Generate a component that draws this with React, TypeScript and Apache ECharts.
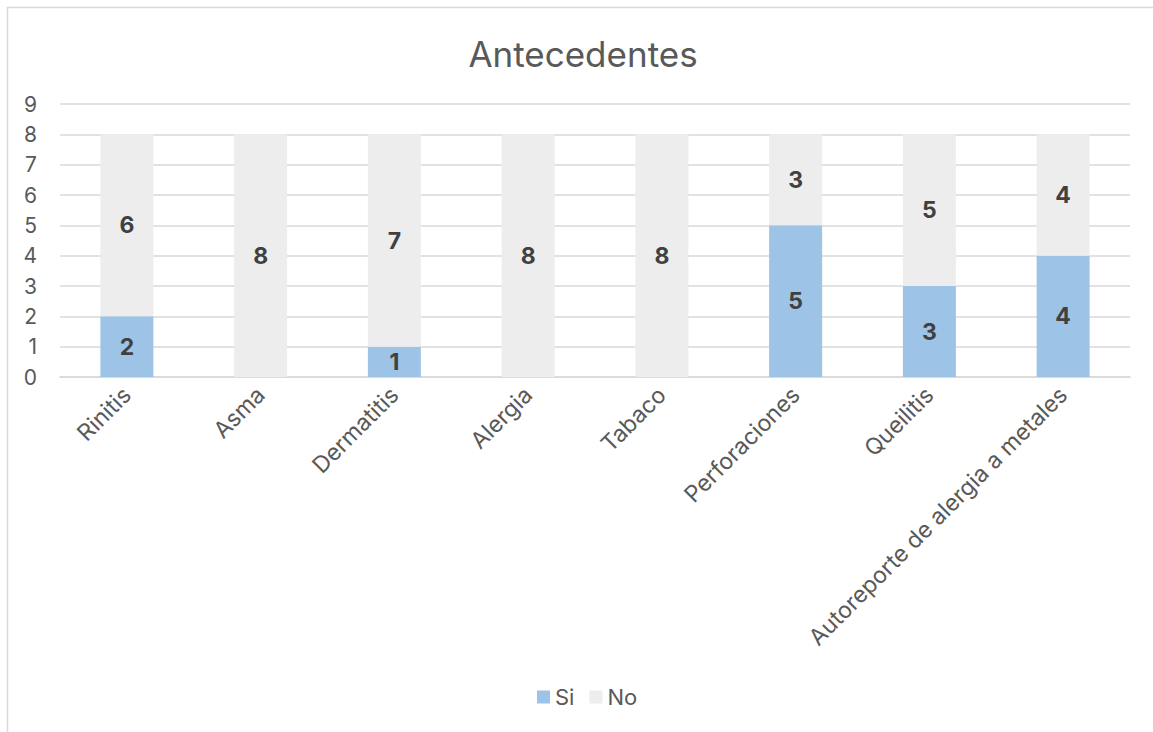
import React, { useEffect, useRef } from "react";
import * as echarts from "echarts";

const categories = ["Rinitis", "Asma", "Dermatitis", "Alergia", "Tabaco", "Perforaciones", "Queilitis", "Autoreporte de alergia a metales"];
const siValues = [2, 0, 1, 0, 0, 5, 3, 4];
const noValues = [6, 8, 7, 8, 8, 3, 5, 4];
const yTicks = [0, 1, 2, 3, 4, 5, 6, 7, 8, 9];

const FONT = "Inter, 'Liberation Sans', Arial, sans-serif";

export default function App() {
  const ref = useRef<HTMLDivElement>(null);
  useEffect(() => {
    if (!ref.current) return;
    const chart = echarts.init(ref.current, undefined, { renderer: "svg" });
    const labelStyle = {
      show: true,
      position: "inside" as const,
      fontFamily: FONT,
      fontSize: 23,
      fontWeight: "bold" as const,
      color: "#404040",
      formatter: (p: any) => (p.value ? String(p.value) : ""),
    };
    chart.setOption({
      animation: false,
      backgroundColor: "#ffffff",
      title: {
        text: "Antecedentes",
        left: 578,
        textAlign: "center",
        top: 31,
        textStyle: { fontFamily: FONT, fontSize: 35, fontWeight: "normal", color: "#595959" },
      },
      legend: {
        bottom: 19,
        left: 532,
        itemWidth: 13,
        itemHeight: 13,
        itemGap: 15,
        icon: "rect",
        textStyle: { fontFamily: FONT, fontSize: 22, color: "#595959", padding: [0, 0, 0, 0] },
        data: ["Si", "No"],
      },
      grid: { left: 60, right: 23, top: 104, bottom: 355, containLabel: false },
      xAxis: {
        type: "category",
        data: categories,
        axisLine: { show: true, lineStyle: { color: "#D9D9D9", width: 1.5 } },
        axisTick: { show: false },
        axisLabel: {
          rotate: 45,
          interval: 0,
          margin: 14,
          fontFamily: FONT,
          fontSize: 23,
          color: "#595959",
        },
      },
      yAxis: {
        type: "value",
        min: yTicks[0],
        max: yTicks[yTicks.length - 1],
        interval: 1,
        axisLine: { show: false },
        axisTick: { show: false },
        axisLabel: { fontFamily: FONT, fontSize: 21, color: "#595959", margin: 23 },
        splitLine: { lineStyle: { color: "#D9D9D9", width: 1.5 } },
      },
      series: [
        {
          name: "Si",
          type: "bar",
          stack: "total",
          data: siValues,
          barWidth: 53,
          itemStyle: { color: "#9DC3E6" },
          label: labelStyle,
        },
        {
          name: "No",
          type: "bar",
          stack: "total",
          data: noValues,
          barWidth: 53,
          itemStyle: { color: "#EDEDED" },
          label: labelStyle,
        },
      ],
      graphic: [
        { type: "line", shape: { x1: 7, y1: 7.5, x2: 1153, y2: 7.5 }, style: { stroke: "#D9D9D9", lineWidth: 1.5 } },
        { type: "line", shape: { x1: 7.5, y1: 7, x2: 7.5, y2: 732 }, style: { stroke: "#D9D9D9", lineWidth: 1.5 } },
      ],
    });
    return () => chart.dispose();
  }, []);
  return (
    <div
      ref={ref}
      style={{ position: "absolute", left: 0, top: 0, width: 1153, height: 732 }}
    />
  );
}
